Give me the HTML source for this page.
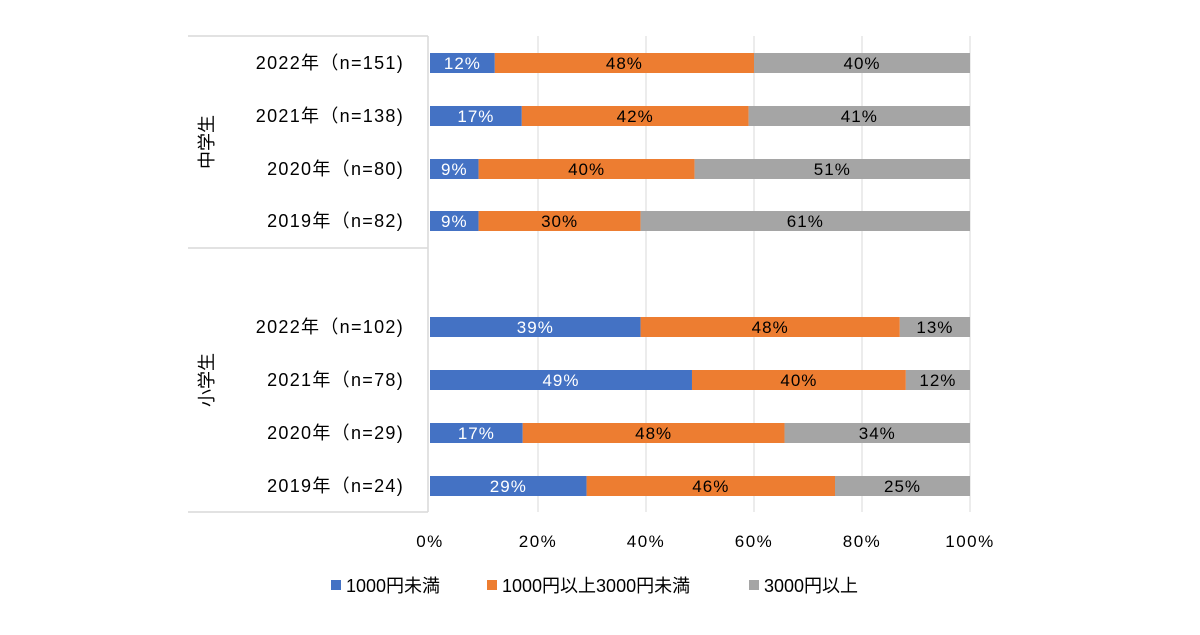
<!DOCTYPE html>
<html><head><meta charset="utf-8"><style>
body{margin:0;background:#fff;}
svg text{font-family:"Liberation Sans","Noto Sans CJK JP",sans-serif;}
</style></head><body>
<svg id="chart" width="1200" height="630" xmlns="http://www.w3.org/2000/svg"></svg>
<script>
const categories=["2022年（n=151)","2021年（n=138)","2020年（n=80)","2019年（n=82)","2022年（n=102)","2021年（n=78)","2020年（n=29)","2019年（n=24)"];
const groups=["中学生","小学生"];
const seriesNames=["1000円未満","1000円以上3000円未満","3000円以上"];
const s1=[12,17,9,9,39,49,17,29];
const s2=[48,42,40,30,48,40,48,46];
const s3=[40,41,51,61,13,12,34,25];
const ticks=["0%","20%","40%","60%","80%","100%"];
const colors=["#4472c4","#ed7d31","#a5a5a5"];
const textColors=["#fff","#000","#000"];
const svg=document.getElementById('chart');
const NS="http://www.w3.org/2000/svg";
function mk(t,a,txt){const e=document.createElementNS(NS,t);for(const k in a)e.setAttribute(k,a[k]);if(txt!==undefined)e.textContent=txt;svg.appendChild(e);return e;}
const x0=430,x1=970;
const xs=p=>x0+(x1-x0)*p/100;
const rowY=[63,116,169,221,327,380,433,486];
const yRow=i=>rowY[i];
ticks.forEach((t,i)=>{const p=i*20;
 if(i>0){const g=mk('line',{x1:xs(p),x2:xs(p),y1:36,y2:512,stroke:'#d9d9d9','stroke-width':1});
 }
 const tl=mk('text',{x:xs(p),y:547,'text-anchor':'middle','font-size':17,'letter-spacing':1.5,fill:'#000'},t);
 
});
[[188,36,428,36],[188,248,428,248],[188,512,428,512],[428,36,428,512]].forEach(l=>{
 const e=mk('line',{x1:l[0],y1:l[1],x2:l[2],y2:l[3],stroke:'#d9d9d9','stroke-width':1.5});
 });
groups.forEach((g,i)=>{const cy=i==0?142:380;
 const e=mk('text',{x:0,y:0,transform:`translate(213,${cy}) rotate(-90)`,'text-anchor':'middle','font-size':18,fill:'#000'},g);
 });
const series=[s1,s2,s3];
categories.forEach((c,i)=>{
 const y=yRow(i);
 const t=mk('text',{x:404,y:y+6,'text-anchor':'end','font-size':18,'letter-spacing':1.3,fill:'#000'},c);
 
 const tot=s1[i]+s2[i]+s3[i];let acc=0;
 series.forEach((s,k)=>{const v=s[i]/tot*100;
  const r=mk('rect',{x:xs(acc),y:y-10,width:xs(acc+v)-xs(acc),height:20,fill:colors[k]});
  
  const l=mk('text',{x:(xs(acc)+xs(acc+v))/2,y:y+6,'text-anchor':'middle','font-size':17,'letter-spacing':1,fill:textColors[k]},s[i]+'%');
  
  acc+=v;});
});
const lx=[331,487,749];
seriesNames.forEach((n,k)=>{
 const r=mk('rect',{x:lx[k],y:580,width:10,height:10,fill:colors[k]});
 
 const t=mk('text',{x:lx[k]+15,y:592,'font-size':18,fill:'#000'},n);
 
});
</script>
</body></html>
